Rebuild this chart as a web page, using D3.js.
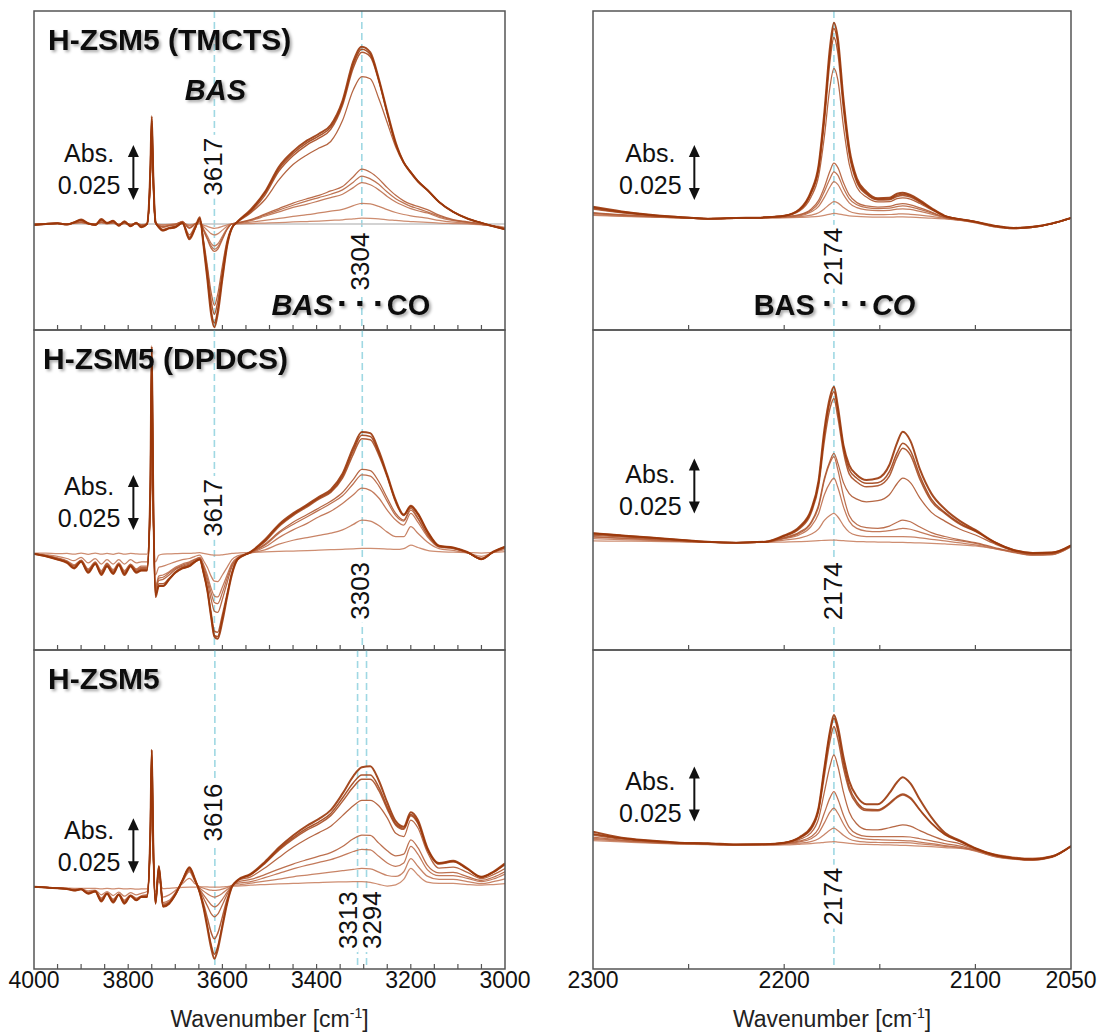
<!DOCTYPE html>
<html>
<head>
<meta charset="utf-8">
<script src="https://cdn.jsdelivr.net/npm/d3@7/dist/d3.min.js"></script>
<style>
html,body{margin:0;padding:0;background:#fff;}
svg text{font-family:"Liberation Sans",Arial,Helvetica,sans-serif;}
</style>
</head>
<body>
<svg id="chart" width="1100" height="1035"></svg>
<script>
// ---------------- DATA (absorbance in mAbs = Abs x 1000) ----------------
const OH_WN = [4000,3975,3950,3930,3915,3900,3885,3870,3857,3845,3832,3820,3808,3795,3783,3772,
  3760,3753,3750,3747,3742,3735,
  3726,3713,3700,3685,3670,3658,3648,3640,3632,3624,3617,3610,3600,3590,3580,
  3568,3540,3510,3480,3450,3420,3395,3370,3345,3322,3304,3286,3268,3250,3232,3215,3200,3185,3165,3140,3110,3080,3050,3025,3000];

const CO_WN = [2300,2285,2270,2255,2240,2225,2210,2200,2192,2186,2182,2179,2176,2174,2172,2169,2166,2162,2157,2151,2145,2141,2138,2134,2129,2123,2116,2108,2100,2090,2080,2070,2060,2050];

const OH_TICKS = [4000,3800,3600,3400,3200,3000];
const CO_TICKS = [2300,2200,2100,2050];

// H-ZSM5 (TMCTS), OH region
const TMCTS_OH = [
 [-0.5,0,0.3,-0.3,0.8,2,0.3,-0.5,2.2,0.5,1.5,-0.8,1.2,-1,0.5,-1.5, 0,25,49,24,1,-1.5, -3,-2,-1.5,0.5,-7,-2,3,-10,-25,-41,-47,-41,-25,-10,-2, 1,6.5,14.5,26,33,38,41,45,56,74,80.6,78,66,51,37,28,23.5,19.5,15.5,10,5.5,2.5,0.5,-1,-2.4],
 [-0.5,0,0.2,-0.3,0.7,1.8,0.2,-0.5,2,0.4,1.3,-0.8,1,-1,0.4,-1.5, 0,24,48,23,1,-1.5, -3,-2,-1.5,0.3,-6.5,-2,2.5,-9.5,-24,-39,-45,-39,-24,-9.5,-2, 1,6,14,25,32,37,40,44,55,72.5,79.4,77,65.5,50.5,36.5,28,23.5,19.5,15.5,10,5.5,2.5,0.5,-1,-2.4],
 [-0.4,0.1,0.3,-0.2,0.6,1.7,0.2,-0.4,1.8,0.4,1.2,-0.6,0.9,-0.8,0.4,-1.2, 0,24,47,23,0.8,-1.3, -2.8,-1.8,-1.3,0.4,-6,-1.8,2.3,-8.5,-21,-35,-41,-35.5,-21.5,-8.5,-1.8, 1,5.5,13,24,31,36,39,43,54,71,78,76,65,50,36,28,23.5,19.5,15.5,10,5.5,2.5,0.5,-1,-2.4],
 [-0.4,0.1,0.3,-0.2,0.6,1.6,0.2,-0.4,1.7,0.3,1.1,-0.6,0.8,-0.8,0.3,-1.2, 0,23,46,22,0.6,-1.2, -2.5,-1.5,-1,0.8,-5,-1,2,-7.5,-19,-31,-37,-32,-19,-7.5,-1.5, 0.8,5,11,20,27,31.5,34.5,37.5,47,61,67,66,57,46,35,27.5,23,19,15.3,10,5.5,2.5,0.5,-1,-2.4],
 [0,0.2,0.4,0,0.5,1,0.2,0,1,0.3,0.7,-0.3,0.5,-0.3,0.2,-0.6, 0,22,45,21,0.5,-0.8, -1.5,-0.8,-0.3,1.2,-2,0,1.5,-3,-7,-11,-12.5,-11.5,-7,-2.5,0, 0.5,2,4.5,7,9.5,11.5,13,15,17,21.5,24.9,23.5,20.5,16.5,13,10.5,9,8,6.5,4,2,1,0,-1,-2],
 [0,0.2,0.3,0,0.4,0.9,0.2,0,0.9,0.2,0.6,-0.3,0.4,-0.3,0.2,-0.5, 0,22,45,21,0.5,-0.7, -1.3,-0.7,-0.3,1,-1.8,0,1.2,-2.7,-6.4,-10,-11.5,-10.5,-6.4,-2.3,0, 0.5,1.8,4,6.3,8.5,10.5,12,13.5,15.5,19,21.8,20.5,18,14.5,11.5,9.5,8,7,5.5,3.5,1.8,0.8,-0.2,-1,-2],
 [0,0.1,0.3,0,0.4,0.8,0.1,0,0.8,0.2,0.5,-0.2,0.4,-0.2,0.1,-0.5, 0,21,44,20,0.4,-0.6, -1.2,-0.6,-0.2,0.8,-1.5,0,1,-2.3,-5.5,-8.8,-10,-9.1,-5.6,-2,0, 0.3,1.5,3.5,5.5,7.5,9,10.5,12,13.5,16.5,18.8,17.8,15.5,12.5,10,8.3,7,6,5,3,1.5,0.7,-0.2,-1,-2],
 [0,0.1,0.2,0,0.3,0.6,0.1,0,0.6,0.1,0.4,-0.2,0.3,-0.2,0.1,-0.4, 0,21,44,20,0.3,-0.4, -0.6,-0.3,0,0.5,-0.8,0,0.5,-1.2,-2.8,-4.4,-5,-4.5,-2.8,-1,0, 0.2,0.8,1.6,2.5,3.4,4.2,5,5.8,6.6,8.3,9.4,9.1,8,6.5,5.2,4.3,3.7,3.2,2.6,1.6,0.8,0.3,-0.3,-1,-1.8],
 [0,0.1,0.2,0,0.3,0.5,0.1,0,0.5,0.1,0.3,-0.2,0.2,-0.2,0.1,-0.3, 0,20,43,19,0.2,-0.2, -0.3,-0.2,0,0.2,-0.4,0,0.2,-0.5,-1.1,-1.7,-2,-1.8,-1.1,-0.4,0, 0,0.2,0.4,0.6,0.9,1.1,1.3,1.6,1.9,2.3,2.6,2.5,2.3,1.9,1.6,1.3,1.1,0.9,0.7,0.4,0.2,0,-0.3,-0.8,-1.5]
];

// H-ZSM5 (DPDCS), OH region
const DPDCS_OH = [
 [-0.5,-1.5,-3,-4.5,-7,-4,-9,-5,-10,-6,-9.5,-5.5,-10,-6,-9,-8, -8,30,94,30,-20,-15, -15,-12,-9,-7,-6,-4,-3,-9,-17,-29,-38,-39,-31,-20,-10, -3,0.5,6,13,18,22,25.5,28.8,36,48,55,54.5,46.5,35.5,24,17.5,21.5,18,10,3.3,2.5,0.5,-2.8,0.6,2.9],
 [-0.5,-1.5,-3,-4.3,-6.8,-4,-8.7,-5,-9.5,-6,-9.2,-5.5,-9.5,-6,-8.7,-8, -8,30,92,28,-19,-15, -15,-12,-9,-7,-6,-4,-3,-9,-17,-28.5,-37.5,-38,-29.5,-19.5,-9.5, -3,0.5,5.5,12.5,17.5,21.5,25,28,35,46.5,53.5,53,45.5,35,23.5,17.3,21.2,17.8,9.8,3.2,2.4,0.4,-2.8,0.5,2.8],
 [-0.5,-1.4,-2.8,-4.2,-6.5,-3.8,-8.5,-4.8,-9.3,-5.8,-9,-5.3,-9.3,-5.8,-8.5,-7.5, -7.5,28,90,27,-19,-14, -14,-11.5,-8.5,-6.5,-5.5,-3.8,-2.8,-8.5,-16,-27,-35.5,-36,-28,-18.5,-9, -3,0.4,5,12,17,21,24.5,27.5,34,45,52,51.5,44.5,34.5,23,17,21,17.5,9.5,3.1,2.3,0.3,-2.8,0.5,2.7],
 [-0.5,-1.3,-2.5,-4,-6,-3.5,-8,-4.5,-9,-5,-8.5,-5,-9,-5.5,-8,-7, -7,26,88,26,-17,-12.5, -12,-10,-7.5,-6,-5,-3.5,-2.5,-7,-13,-21,-26.5,-27,-21,-13.5,-6.5, -2.5,0.3,4,9.5,14,17.5,20.5,23.5,27.5,33.5,38,37.5,32.5,25,18,15,20.3,16,8.5,3,2.2,0.2,-2.6,0.4,2.5],
 [-0.4,-1.2,-2.4,-3.8,-5.8,-3.4,-7.6,-4.3,-8.5,-4.8,-8.1,-4.8,-8.5,-5.2,-7.6,-6.5, -6.5,25,86,25,-16,-11.5, -11,-9,-7,-5.5,-4.5,-3,-2.2,-6,-11.5,-18,-22.5,-23,-18,-11.5,-5.5, -2.3,0.2,3.5,9,13,16.5,19.5,22.5,26,31.5,35.5,35,30.5,23.5,17,14.5,19.5,15.5,8.2,2.9,2.1,0.2,-2.5,0.4,2.4],
 [-0.4,-1.1,-2.2,-3.5,-5.4,-3.2,-7.2,-4,-8,-4.6,-7.6,-4.5,-8,-5,-7.2,-6, -6,24,84,24,-15,-10.5, -10,-8.5,-6.5,-5,-4,-2.8,-2,-5.2,-10,-16,-19.5,-20,-15.5,-10,-4.8, -2,0,2.7,7,10.5,13.5,16.5,19,22.5,26.5,29.5,28.5,25,19.5,15,12.7,18,14,7.5,2.7,2,0.1,-2.3,0.3,2.2],
 [-0.3,-0.8,-1.5,-2.5,-3.5,-2,-4.5,-2.5,-5,-3,-5,-3,-5,-3,-4.5,-4, -4,22,80,22,-10,-6.5, -6,-5,-4,-3,-2.5,-1.5,-1,-3.5,-6.5,-10.5,-12.8,-13,-10,-6.5,-3, -1.3,0,1.4,4,5.8,7,8,9,10.5,13,15,14.5,12.5,9.5,7.4,7.4,12,9,5,2,1.2,0,-1.5,0.2,1.5],
 [0,0,-0.3,-0.2,-0.5,0,-0.6,0,-0.5,-0.2,-0.6,0,-0.5,-0.2,-0.4,-0.5, -0.5,18,75,18,-4,-1, -0.5,-0.4,-0.3,-0.2,-0.2,0,0.2,-0.2,-0.5,-0.8,-1,-1,-0.8,-0.5,-0.2, 0,0.3,0.5,0.7,0.9,1.1,1.3,1.5,1.7,1.9,2.1,2.1,2,1.8,1.6,2,3.6,2.5,1.2,0.6,0.4,0.2,0,0.3,0.6]
];

// H-ZSM5, OH region
const HZSM5_OH = [
 [-0.3,-0.6,-1,-1.3,-2,-1.5,-3.5,-2.5,-7,-3.5,-7.5,-4,-8,-4.5,-6.5,-5, -5,25,62,22,-8,9, -9.4,-8,-4,2.5,8.5,3,-3,-10,-19,-28,-33,-29,-18.5,-8,-0.5, 2.7,5.5,11,17.5,23,27.5,30.5,34.5,42,50,54,54.5,48,38,29.5,27,33.5,30,17.5,10.5,11.5,8,4.2,6.5,10.3],
 [-0.3,-0.6,-1,-1.3,-2,-1.5,-3.4,-2.5,-6.8,-3.5,-7.3,-4,-7.8,-4.5,-6.4,-5, -5,25,62,22,-8,9, -9.3,-7.9,-4,2.5,8.3,2.8,-3,-9.5,-18,-26.5,-31,-27.5,-17.5,-7.5,-0.5, 2.6,5.3,10.5,16.8,22,26.3,29.2,33,40,47,50.5,50.5,45,36,28.3,26.3,32.5,29,17,10.2,11.2,7.8,4.1,6.3,10],
 [-0.3,-0.6,-1,-1.3,-1.9,-1.5,-3.3,-2.4,-6.5,-3.4,-7,-3.9,-7.5,-4.4,-6.2,-4.9, -4.8,24,61,21,-7.8,8.5, -9,-7.7,-3.8,2.5,8,2.7,-2.8,-8,-14.5,-21,-24,-21.5,-14,-6,-0.3, 2.5,5.1,10.2,16.3,21.3,25.5,28.3,32,38.5,45,48.5,48.5,43.5,35,27.7,25.8,32,28.5,16.7,10,11,7.7,4,6.2,9.8],
 [-0.3,-0.6,-1,-1.2,-1.8,-1.4,-3.1,-2.3,-6.2,-3.3,-6.7,-3.8,-7.2,-4.3,-6,-4.8, -4.5,23,60,20,-7.5,8, -8.7,-7.5,-3.6,2.3,7.5,2.5,-2,-5.5,-9,-12.5,-14,-12.8,-8.5,-3.8,0, 2.4,4.2,8.2,13,17.6,21.5,24.3,27.2,32,36.5,39,39,36.5,31,24,22.5,30,26.5,15.5,8.2,8.6,6.2,3.4,5.2,8],
 [-0.3,-0.6,-0.9,-1.2,-1.7,-1.4,-2.9,-2.2,-5.8,-3.2,-6.3,-3.7,-6.8,-4.2,-5.8,-4.6, -4.2,22,59,19,-7,7.5, -8.2,-7,-3.4,2,7,2.2,-1.5,-4,-6.3,-8.5,-9.5,-8.7,-6,-2.8,0.2, 1.8,3,5.2,7.7,10,12,13.6,15.2,18,21.5,23.2,23,19.5,16,13.7,14.5,21,17.5,9.5,6,6.2,4.3,2.6,4,6.5],
 [-0.3,-0.6,-0.9,-1.1,-1.6,-1.3,-2.7,-2.1,-5.4,-3.1,-5.9,-3.6,-6.4,-4,-5.5,-4.4, -3.8,21,58,18,-6.5,7, -7.5,-6.5,-3,1.8,6.5,2,-0.8,-2.3,-3.5,-4.5,-5,-4.6,-3.3,-1.6,0.3, 1.2,2,3.8,5.8,7.8,9.5,10.8,12,13.8,15.7,16.7,16.4,13.5,10.5,9,10.5,18,14.5,7.5,4.7,4.8,3.5,2,3.2,5.5],
 [-0.4,-0.6,-0.8,-1,-1.4,-1.2,-2.2,-1.8,-4,-2.5,-4.3,-2.8,-4.6,-3,-4,-3.3, -2.5,19,57,17,-4.5,5, -5,-4,-2,1,3.5,1,-0.3,-1,-1.5,-1.9,-2,-1.9,-1.4,-0.7,0.2, 0.5,1.3,2.2,3.2,4.2,5,5.7,6.3,7,7.6,8,7.8,6.3,4.8,4.4,6.5,12.5,9,4.5,3,3,2,1.1,2,3.3],
 [-0.5,-0.6,-0.8,-0.9,-1,-1,-1.1,-1,-1.3,-1.1,-1.3,-1.1,-1.3,-1.2,-1.4,-1.3, -1.3,17,55,15,-2.5,2, -1.2,-1,-0.8,-0.6,-0.5,-0.5,-0.4,-0.4,-0.4,-0.5,-0.5,-0.5,-0.4,-0.2,0, 0,0.4,0.7,1,1.2,1.4,1.6,1.8,1.9,2,2,1.7,0.8,0,0.5,3,8,5,1.8,1.2,1.2,0.7,0.4,0.7,1.1]
];

// H-ZSM5 (TMCTS), CO region
const TMCTS_CO = [
 [5.1,3,1.5,0.5,-0.3,0,0.3,1,4,12,24,48,78,88.8,82,54,32,18,12,9,9.2,11,11.5,10.5,8,4.5,1,-0.5,-1.7,-3.5,-4.5,-4,-2.5,0],
 [4.8,2.8,1.4,0.5,-0.3,0,0.3,1,3.8,11.5,23,46,75.5,86.2,79.5,52,30.5,17,11.3,8.5,8.7,10.3,10.8,10,7.5,4.3,0.9,-0.5,-1.7,-3.6,-4.5,-4,-2.5,0],
 [4.5,2.6,1.3,0.4,-0.3,0,0.3,1,3.6,11,22,44,72,82,75.5,49.5,29,16.2,10.8,8.2,8.3,9.8,10.2,9.5,7.2,4.1,0.9,-0.5,-1.7,-3.6,-4.5,-4,-2.5,0],
 [4,2.3,1.1,0.3,-0.3,0,0.3,0.9,3.2,9.5,19,37,60,68,63,41.5,24.5,14,9.5,7.3,7.4,8.8,9.2,8.6,6.6,3.8,0.8,-0.6,-1.8,-3.7,-4.6,-4.1,-2.5,0],
 [2.5,1.5,0.8,0.2,-0.3,-0.2,0.2,0.6,1.5,4,8,14,21.5,24.9,23,16,10.5,7,5.5,5,5.3,6.2,6.5,6,4.6,2.7,0.4,-0.8,-1.9,-3.8,-4.7,-4.2,-2.6,0],
 [2.2,1.3,0.7,0.2,-0.3,-0.2,0.2,0.5,1.3,3.4,6.8,12,18,21,19.5,13.5,8.8,6,4.7,4.3,4.5,5.2,5.5,5.1,3.9,2.3,0.3,-0.8,-1.9,-3.8,-4.7,-4.2,-2.6,0],
 [2,1.2,0.6,0.1,-0.3,-0.2,0.1,0.4,1,2.7,5.3,9.4,14.2,16.5,15.3,10.6,6.9,4.7,3.7,3.4,3.5,4,4.2,3.9,3,1.8,0.1,-0.9,-2,-3.9,-4.8,-4.3,-2.6,0],
 [1.5,0.9,0.5,0.1,-0.3,-0.2,0.1,0.3,0.6,1.3,2.4,4.2,6.4,7.4,6.9,4.8,3.1,2.1,1.7,1.5,1.6,1.8,1.9,1.7,1.3,0.7,-0.2,-1,-2.1,-4,-4.8,-4.3,-2.6,0],
 [1.2,0.7,0.4,0.1,-0.3,-0.2,0,0.1,0.3,0.5,0.8,1.2,1.8,2.1,1.9,1.4,1,0.7,0.5,0.4,0.4,0.5,0.5,0.4,0.2,0,-0.4,-1.1,-2.2,-4,-4.8,-4.3,-2.6,0]
];

// H-ZSM5 (DPDCS), CO region
const DPDCS_CO = [
 [4,3,2,1,0.1,-0.3,0.1,3,7,14.5,28,51,66,70.6,62,44,35,30.5,28.2,29,35,45,50.1,46,33,22,15,9.5,5.5,0,-3.6,-5,-4.8,-1.5],
 [4,3,2,1,0,-0.3,0.1,2.8,6.5,14,27,49,64,68.3,60,43,33,29,26.7,27,32,40.5,44.9,41.5,30,19.5,13.5,8.5,5,0,-3.6,-5,-4.8,-1.5],
 [3.5,2.6,1.8,0.9,0,-0.3,0.1,2.6,6,13,25.5,46,61,65.3,57,41,31,27.3,25.1,25.6,30,38.5,42.6,39.5,28.5,18.5,13,8,4.8,-0.2,-3.8,-5.2,-5,-1.6],
 [3,2.3,1.5,0.7,0,-0.3,0,2,4.5,9,17,29,37,40.3,36,27,22,19.5,18.3,18.8,21.5,26.5,29,27,20,13.5,9.5,5.8,3.2,-0.8,-4,-5.5,-5.3,-1.8],
 [2.5,1.8,1.2,0.5,-0.1,-0.3,0,1.8,4,8.5,16,28,36,38.8,33,21,12,8,6.5,6.2,7.2,9,10,9.2,6.8,4.3,2.5,1,-0.3,-2.5,-4.5,-5.8,-5.5,-2],
 [2.2,1.6,1,0.4,-0.1,-0.3,0,1.5,3.3,7,13,21.5,27,29,25,16,9.5,6.2,5,4.7,5.2,5.8,6.2,5.8,4.5,2.9,1.6,0.5,-0.6,-2.8,-4.6,-5.9,-5.6,-2],
 [1.5,1.1,0.7,0.3,-0.2,-0.3,0,0.9,1.8,3.5,6,9.8,12.2,13,11.5,7.5,4.5,3,2.5,2.4,2.4,2.4,2.4,2.3,1.9,1.2,0.5,-0.4,-1.3,-3,-4.8,-6,-5.8,-2.2],
 [0.5,0.4,0.3,0.1,-0.2,-0.3,-0.2,0,0.2,0.4,0.6,0.8,0.9,0.9,0.8,0.6,0.4,0.2,0.1,0,-0.1,-0.2,-0.2,-0.3,-0.4,-0.6,-0.9,-1.3,-1.8,-3,-4.5,-5.5,-5.3,-2]
];

// H-ZSM5, CO region
const HZSM5_CO = [
 [6,3.3,2,1,0.8,0.2,0.3,1,3.5,8,17,35,52,59.1,54,40,29,22,18.5,18.5,23.5,28.5,30.8,28,20.5,12.5,5.5,2,-1.5,-4.5,-6,-6.5,-5.3,-0.5],
 [5,3,1.8,1,0.6,0.2,0.3,1,3.3,7.5,16.5,34,51,57.6,52,37.5,26.5,19.5,16.2,16,19,22,23.2,21.5,16,10,4.8,1.6,-1.6,-4.6,-6,-6.5,-5.3,-0.5],
 [5,3,1.8,1,0.6,0.2,0.3,1,3.2,7,15.5,31.5,47.5,53.8,48.5,35,25,18.5,15.6,15.5,18.5,21.5,22.7,21,15.7,9.8,4.7,1.5,-1.6,-4.6,-6,-6.5,-5.3,-0.5],
 [4.5,2.6,1.5,0.8,0.4,0.1,0.2,0.8,2.5,5.5,12,24,36,40.9,36,24,15,9.5,7,6.8,7.8,8.7,9.1,8.5,6.5,4.2,2,0.5,-2,-4.8,-6.2,-6.7,-5.4,-0.6],
 [3.5,2.2,1.3,0.7,0.3,0,0.1,0.6,1.8,3.7,7.5,14.5,21.5,24.2,21,13.5,8,5,3.9,3.8,3.8,3.8,3.8,3.6,2.8,1.8,0.6,-0.5,-2.3,-5,-6.3,-6.8,-5.5,-0.6],
 [3,2,1.2,0.6,0.3,0,0.1,0.5,1.4,2.8,5.5,10,15,16.7,14.5,9.5,5.5,3.4,2.6,2.4,2.2,2.1,2,1.8,1.3,0.6,-0.3,-1.1,-2.6,-5.2,-6.4,-6.9,-5.6,-0.7],
 [2.5,1.7,1,0.5,0.2,0,0,0.3,0.8,1.5,2.8,4.7,6.8,7.6,6.6,4.4,2.7,1.7,1.3,1.1,1,1,1,0.9,0.5,0,-0.7,-1.4,-2.8,-5.3,-6.5,-7,-5.7,-0.7],
 [2,1.4,0.8,0.4,0.1,-0.1,-0.1,0,0.3,0.6,0.9,1.2,1.4,1.5,1.3,1,0.7,0.4,0.2,0.1,0,-0.1,-0.2,-0.3,-0.5,-0.8,-1.2,-1.6,-2.4,-4.2,-5.5,-6,-5,-0.7]
];

// y ranges of each panel (mAbs)
const Y_TMCTS_OH = [-48.2, 96.8];
const Y_DPDCS_OH = [-44.1, 101.4];
const Y_HZSM5_OH = [-37.7, 107.3];
const Y_TMCTS_CO = [-50.9, 94.1];
const Y_DPDCS_CO = [-49.1, 96.4];
const Y_HZSM5_CO = [-56.4, 88.6];

const TITLES = ["H-ZSM5 (TMCTS)", "H-ZSM5 (DPDCS)", "H-ZSM5"];
const SCALE_BAR = 25; // mAbs = 0.025 Abs

// ---------------- LAYOUT ----------------
const COLS = [
  {x0: 34, x1: 505, domain: [4000, 3000], minor: d3.range(3950, 3001, -50), labels: OH_TICKS, arrowWn: 3789, textWn: 3883},
  {x0: 593, x1: 1071, domain: [2300, 2050], minor: [2250, 2200, 2150, 2100], labels: CO_TICKS, arrowWn: 2247, textWn: 2270}
];
const ROWS = [{y0: 11, y1: 330}, {y0: 330, y1: 650}, {y0: 650, y1: 969}];

const panels = [
  {col:0,row:0, wn:OH_WN, series:TMCTS_OH, yd:Y_TMCTS_OH, ref:true, title:0, titleDx:14,
   marks:[3617,3304], labels:[{t:"3617",wn:3617,y:26,dx:7.5},{t:"3304",wn:3304,y:-17.1,dx:7}],
   abs:{top:35.9, d:17}},
  {col:0,row:1, wn:OH_WN, series:DPDCS_OH, yd:Y_DPDCS_OH, title:1, titleDx:9,
   marks:[3617,3303], labels:[{t:"3617",wn:3617,y:20.5,dx:7.5},{t:"3303",wn:3303,y:-17.2,dx:7}],
   abs:{top:35.5, d:20}},
  {col:0,row:2, wn:OH_WN, series:HZSM5_OH, yd:Y_HZSM5_OH, title:2, titleDx:14,
   marks:[3616,3313,3294], labels:[{t:"3616",wn:3616,y:33.4,dx:7.5},{t:"3313",wn:3313,y:-15.5,dx:-1},{t:"3294",wn:3294,y:-15.5,dx:14.5}],
   abs:{top:30.8, d:21}},
  {col:1,row:0, wn:CO_WN, series:TMCTS_CO, yd:Y_TMCTS_CO,
   marks:[2174], labels:[{t:"2174",wn:2174,y:-17.6,dx:8}], abs:{top:33.2, d:17}},
  {col:1,row:1, wn:CO_WN, series:DPDCS_CO, yd:Y_DPDCS_CO,
   marks:[2174], labels:[{t:"2174",wn:2174,y:-22.4,dx:8}], abs:{top:38, d:25}},
  {col:1,row:2, wn:CO_WN, series:HZSM5_CO, yd:Y_HZSM5_CO,
   marks:[2174], labels:[{t:"2174",wn:2174,y:-23.5,dx:8}], abs:{top:35.6, d:23}}
];

// ---------------- DRAW ----------------
const svg = d3.select('#chart');
const defs = svg.append('defs');
const filt = defs.append('filter').attr('id','tshadow')
  .attr('x','-10%').attr('y','-30%').attr('width','130%').attr('height','170%');
filt.append('feDropShadow').attr('dx',2).attr('dy',2).attr('stdDeviation',1.5)
  .attr('flood-color','#000').attr('flood-opacity',0.35);

const strong = '#9a3609', weak = '#c98263';
const FONT_TICK = 23;

panels.forEach((p, pi) => {
  const col = COLS[p.col], row = ROWS[p.row];
  const x = d3.scaleLinear().domain(col.domain).range([col.x0, col.x1]);
  const y = d3.scaleLinear().domain(p.yd).range([row.y1, row.y0]);
  const g = svg.append('g');

  defs.append('clipPath').attr('id', 'clip' + pi).append('rect')
    .attr('x', col.x0).attr('y', row.y0).attr('width', col.x1 - col.x0).attr('height', row.y1 - row.y0);

  // dashed reference positions
  p.marks.forEach(wn => {
    g.append('line').attr('x1', x(wn)).attr('x2', x(wn)).attr('y1', row.y0).attr('y2', row.y1)
      .attr('stroke', '#9fd8e3').attr('stroke-width', 1.6).attr('stroke-dasharray', '7,4');
  });

  const cg = g.append('g').attr('clip-path', `url(#clip${pi})`);
  if (p.ref) {
    cg.append('line').attr('x1', x(col.domain[0])).attr('x2', x(col.domain[1]))
      .attr('y1', y(0)).attr('y2', y(0)).attr('stroke', '#c4c4c4').attr('stroke-width', 1.6);
  }
  const line = d3.line().x(d => x(d[0])).y(d => y(d[1])).curve(d3.curveMonotoneX);
  const n = p.series.length;
  const col_ = d3.interpolateRgb(strong, weak);
  for (let i = n - 1; i >= 0; i--) {
    const s = p.series[i];
    const m = Math.min(s.length, p.wn.length);
    const pts = p.wn.slice(0, m).map((w, k) => [w, s[k]]);
    cg.append('path').attr('d', line(pts)).attr('fill', 'none')
      .attr('stroke', col_(i / (n - 1)))
      .attr('stroke-width', i === 0 ? 2 : (i < 3 ? 1.5 : 1.25))
      .attr('stroke-opacity', 0.9)
      .attr('stroke-linejoin', 'round');
  }

  // peak labels (rotated, with white background)
  p.labels.forEach(l => {
    const bx = x(l.wn) + l.dx, cy = y(l.y);
    const fs = 26;
    const len = fs * 0.556 * l.t.length;
    g.append('rect').attr('x', bx - 20).attr('y', cy - len / 2 - 3).attr('width', 22).attr('height', len + 6).attr('fill', '#fff');
    g.append('text').attr('transform', `translate(${bx},${cy}) rotate(-90)`)
      .attr('text-anchor', 'middle').attr('font-size', fs).attr('fill', '#111').text(l.t);
  });

  // frame
  g.append('rect').attr('x', col.x0).attr('y', row.y0).attr('width', col.x1 - col.x0).attr('height', row.y1 - row.y0)
    .attr('fill', 'none').attr('stroke', '#555').attr('stroke-width', 1.5);

  // inner ticks at bottom
  col.minor.forEach(t => {
    g.append('line').attr('x1', x(t)).attr('x2', x(t)).attr('y1', row.y1).attr('y2', row.y1 - 5)
      .attr('stroke', '#555').attr('stroke-width', 1.2);
  });

  // tick labels and axis title on the bottom row
  if (p.row === 2) {
    col.labels.forEach(t => {
      g.append('text').attr('x', x(t)).attr('y', row.y1 + 19).attr('text-anchor', 'middle')
        .attr('font-size', FONT_TICK).attr('fill', '#111').text(t);
    });
    const tt = g.append('text').attr('x', (col.x0 + col.x1) / 2).attr('y', row.y1 + 58)
      .attr('text-anchor', 'middle').attr('font-size', FONT_TICK).attr('fill', '#222');
    tt.append('tspan').text('Wavenumber [cm');
    tt.append('tspan').attr('font-size', 14).attr('dy', -9).text('-1');
    tt.append('tspan').attr('dy', 9).text(']');
  }

  // Abs. scale bar
  const ax = x(col.arrowWn), yTop = y(p.abs.top), yBot = y(p.abs.top - SCALE_BAR);
  g.append('line').attr('x1', ax).attr('x2', ax).attr('y1', yTop + 8).attr('y2', yBot - 8)
    .attr('stroke', '#111').attr('stroke-width', 2);
  g.append('path').attr('d', `M${ax},${yTop} L${ax - 5.5},${yTop + 12} L${ax + 5.5},${yTop + 12} Z`).attr('fill', '#111');
  g.append('path').attr('d', `M${ax},${yBot} L${ax - 5.5},${yBot - 12} L${ax + 5.5},${yBot - 12} Z`).attr('fill', '#111');
  const tx = x(col.textWn);
  g.append('text').attr('x', tx).attr('y', yTop + p.abs.d).attr('text-anchor', 'middle')
    .attr('font-size', 25).attr('fill', '#111').text('Abs.');
  g.append('text').attr('x', tx).attr('y', yTop + p.abs.d + 32).attr('text-anchor', 'middle')
    .attr('font-size', 25).attr('fill', '#111').text('0.025');

  // titles
  if (p.title !== undefined) {
    g.append('text').attr('x', col.x0 + p.titleDx).attr('y', row.y0 + 39)
      .attr('font-size', 30).attr('font-weight', 'bold').attr('fill', '#111')
      .attr('filter', 'url(#tshadow)').text(TITLES[p.title]);
  }

  // extra annotations in top row
  if (pi === 0) {
    g.append('text').attr('x', x(3617) + 1).attr('y', row.y0 + 89).attr('text-anchor', 'middle')
      .attr('font-size', 29).attr('font-weight', 'bold').attr('font-style', 'italic').attr('fill', '#111')
      .attr('filter', 'url(#tshadow)').text('BAS');
    const cx = x(3304);
    const ag = g.append('g').attr('filter', 'url(#tshadow)');
    ag.append('text').attr('x', cx - 29).attr('y', row.y0 + 304).attr('text-anchor', 'end')
      .attr('font-size', 29).attr('font-weight', 'bold').attr('font-style', 'italic').attr('fill', '#111').text('BAS');
    [-20, -2, 16].forEach(o => ag.append('rect').attr('x', cx + o - 2.5).attr('y', row.y0 + 290).attr('width', 5).attr('height', 5).attr('fill', '#111'));
    ag.append('text').attr('x', cx + 25).attr('y', row.y0 + 304)
      .attr('font-size', 29).attr('font-weight', 'bold').attr('fill', '#111').text('CO');
  }
  if (pi === 3) {
    const cx = x(2174);
    const ag = g.append('g').attr('filter', 'url(#tshadow)');
    ag.append('text').attr('x', cx - 19).attr('y', row.y0 + 304).attr('text-anchor', 'end')
      .attr('font-size', 29).attr('font-weight', 'bold').attr('fill', '#111').text('BAS');
    [-7, 11, 29].forEach(o => ag.append('rect').attr('x', cx + o - 2.5).attr('y', row.y0 + 290).attr('width', 5).attr('height', 5).attr('fill', '#111'));
    ag.append('text').attr('x', cx + 38).attr('y', row.y0 + 304)
      .attr('font-size', 29).attr('font-weight', 'bold').attr('font-style', 'italic').attr('fill', '#111').text('CO');
  }
});
</script>
</body>
</html>
